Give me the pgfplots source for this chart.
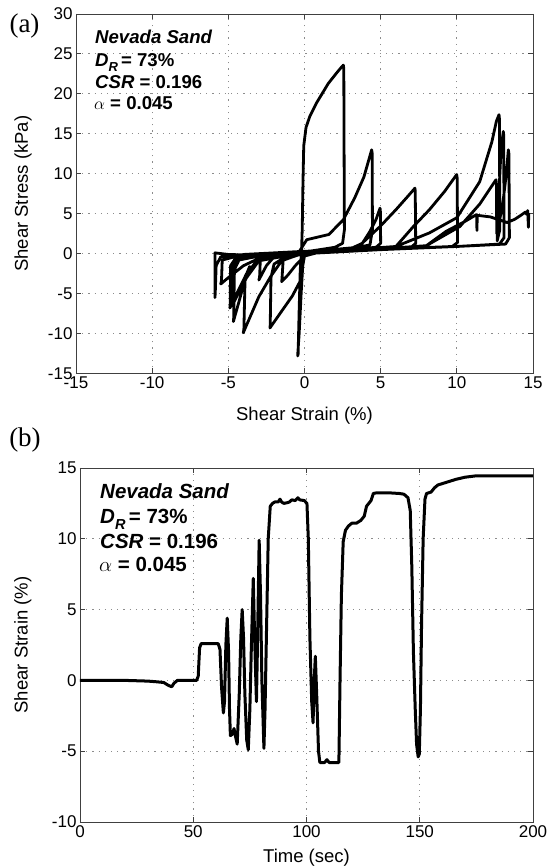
\documentclass[border=0pt]{standalone}
\usepackage{pgfplots}
\pgfplotsset{compat=1.18}
\usepackage{fontspec}
\setmainfont{Liberation Sans}
\newfontfamily\seriffont{Liberation Serif}

\begin{document}
\begin{tikzpicture}
\path[use as bounding box] (0pt,0pt) rectangle (547pt,867pt);
\pgfplotsset{
  myax/.style={
    scale only axis,
    anchor=south west,
    axis line style={draw=black!75, line width=0.9pt},
    tick style={draw=black!75, line width=0.9pt},
    major tick length=5pt,
    tick align=inside,
    grid=major,
    major grid style={draw=black!45, line width=0.9pt, dash pattern=on 1.2pt off 5pt},
    tick label style={font=\fontsize{17}{17}\selectfont},
    label style={font=\fontsize{18.5}{18.5}\selectfont},
    /pgf/number format/assume math mode=true,
  }
}

% ---------------- (a) ----------------
\begin{axis}[myax, at={(76pt,493.5pt)}, width=457pt, height=359.5pt,
  xmin=-15, xmax=15, ymin=-15, ymax=30,
  xtick={-15,-10,...,15}, ytick={-15,-10,...,30},
  xlabel={Shear Strain (\%)}, ylabel={Shear Stress (kPa)},
  xlabel style={at={(axis description cs:0.5,-0.118)}, anchor=center},
  ylabel style={at={(axis description cs:-0.116,0.5)}, anchor=center}]
\addplot[black, no markers, line width=2.8pt, line join=round, line cap=round] coordinates {
(0,0) (-0.1,-1) (-0.22,-5) (-0.35,-10) (-0.45,-12.8) (-0.42,-12.6) (-0.35,-7) (-0.28,-2) (-0.2,0)
(-0.15,3) (-0.1,9) (-0.05,13.5) (0.1,15.8) (0.35,17.2) (0.8,18.9) (1.56,21.3) (2.1,22.6) (2.45,23.4) (2.55,23.6)
(2.58,23.2) (2.6,12) (2.62,3) (2.5,1.3) (2.0,0.8) (1.0,0.5) (0.3,0.3)
(0,-0.3) (-0.3,-3.5) (-0.8,-5.3) (-1.5,-7.2) (-2.27,-9.3)
(-2.25,-8.9) (-2.2,-3) (-2.0,-1.3) (-1.5,-0.7) (-0.5,-0.2) (0.15,1.75) (1.6,2.4) (2.55,4.25) (3.3,7.0) (3.9,9.6) (4.41,13.0)
(4.44,12.6) (4.46,3) (4.3,1.1) (3,0.6) (1,0.3) (-0.5,-0.2) (-1.5,-0.9)
(-2.2,-2.8) (-3.0,-5.4) (-4.02,-9.9)
(-3.98,-9.5) (-3.9,-3) (-3.6,-1.6)
(-3.9,-3.2) (-4.3,-6) (-4.67,-8.5)
(-4.65,-8.1) (-4.6,-2) (-4.3,-0.8) (-3,-0.3) (-1,0.1) (1,0.3) (3,0.6) (3.8,1.3)
(4.3,2.8) (4.7,4.3) (4.96,5.7)
(4.98,5.3) (5.0,1.3) (4.7,0.8) (3,0.5) (1,0.2) (-1,-0.2) (-3,-0.6)
(-3.8,-2.5) (-4.4,-4.8) (-4.9,-6.8)
(-4.88,-6.4) (-4.85,-1.5) (-4.5,-0.5) (-2,0.1) (1,0.35) (3.5,0.8) (4.96,3.4)
(6.0,5.5) (6.7,7.0) (7.25,8.2)
(7.27,7.8) (7.3,1.3) (7.0,0.8) (4,0.5) (1,0.2) (0,-0.3)
(-0.6,-1.5) (-1.1,-2.7) (-1.5,-3.5)
(-1.48,-3.2) (-1.4,-0.8) (0,0.1) (3,0.5) (6,0.9) (7.15,3.4)
(8.2,5.5) (9.2,7.8) (9.99,9.9)
(10.02,9.5) (10.05,1.4) (9.7,0.9) (6,0.6) (2,0.3) (-1,-0.2) (-3,-0.9)
(-3.8,-3) (-4.3,-4.8) (-4.75,-6.5)
(-4.73,-6.1) (-4.7,-1.5) (-4.3,-0.5) (-1,0.1) (3,0.5) (6,0.9)
(8.2,2.6) (10,4.5) (11.5,9) (12.3,14) (12.6,16.6) (12.77,17.4)
(12.8,16.8) (12.82,3) (12.65,1.6)
(12.7,5) (12.9,13) (13.05,15.3)
(13.08,14.8) (13.1,2) (12.8,1.2) (10,0.9) (5,0.6) (0,0.1) (-2,-0.4)
(-2.5,-1.5) (-3,-3.3)
(-2.95,-3.0) (-2.9,-0.8) (-1,-0.1) (1.7,0.4)
(1.65,0.2) (0,0) (-3,-0.2) (-5,-0.1) (-5.88,0.1)
(-5.88,-5.5) (-5.86,-5.0) (-5.8,-1.5) (-5.5,-0.4) (-3,0) (0,0.2) (5,0.6) (8,1.0)
(10.2,3.4) (11.5,6.2) (12.57,9.25)
(12.6,8.7) (12.62,2.5) (13.0,6) (13.25,10) (13.38,13.0)
(13.42,12.5) (13.45,2) (13.2,1.2) (10,0.9) (5,0.5) (0,0) (-3,-0.6)
(-4,-1.5) (-5.0,-3) (-5.5,-3.8)
(-5.45,-3.4) (-5.4,-0.8) (-4,-0.1) (0,0.3) (5,0.6) (8,1.0)
(9.3,2.8) (10.5,4.0) (11.3,4.9) (11.32,2.9) (11.34,4.8) (12.2,4.6) (13.3,3.9) (13.8,4.3) (14.2,4.8) (14.5,5.2) (14.6,4.9) (14.65,5.4) (14.7,3.3) (14.72,5.0)
};
\end{axis}

% ---------------- (b) ----------------
\begin{axis}[myax, at={(80pt,45pt)}, width=453pt, height=354pt,
  xmin=0, xmax=200, ymin=-10, ymax=15,
  xtick={0,50,...,200}, ytick={-10,-5,...,15},
  xlabel={Time (sec)}, ylabel={Shear Strain (\%)},
  xlabel style={at={(axis description cs:0.5,-0.102)}, anchor=center},
  ylabel style={at={(axis description cs:-0.126,0.5)}, anchor=center}]
\addplot[black, no markers, line width=3pt, line join=round, line cap=round] coordinates {
(0,0) (10,0) (20,0) (30,-0.05) (34,-0.1) (37,-0.15) (39,-0.35) (40.5,-0.45) (41.5,-0.2) (43,0)
(47,0) (51.5,0) (52.2,0.3) (52.8,2.3) (53.5,2.6) (61,2.6) (61.8,2.2) (62.5,-0.5) (63.3,-2.3)
(63.8,-1.5) (64.4,2.5) (65.0,4.4) (65.6,2.0) (66.0,-2) (66.4,-3.9) (67.3,-3.8) (68.0,-3.4)
(68.6,-3.9) (69.4,-4.5) (70.3,-1) (71.0,3) (71.6,5.0) (72.2,3) (72.8,-1) (73.6,-4.2) (74.3,-4.9)
(75.0,-2) (75.6,2) (76.5,7.2) (77.1,3) (77.9,-1.5) (78.3,2) (79.1,9.9) (79.7,6) (80.3,0)
(81.2,-4.8) (81.7,-2) (82.4,4) (83.1,10) (84.0,12.3) (85,12.5) (86,12.6) (87.5,12.6) (88.3,12.8)
(89,12.6) (90,12.5) (91.5,12.55) (92.5,12.6) (93.5,12.75) (95,12.7) (96.2,12.9) (97,12.75)
(99,12.7) (100.2,12.5) (100.8,10) (101.5,3) (102.3,-1.5) (102.9,-3) (103.4,0) (103.9,1.7)
(104.5,-1) (105.3,-5) (105.9,-5.8) (108,-5.8) (109,-5.6) (110,-5.8) (114.3,-5.8) (114.8,0)
(115.4,6) (116.2,9.8) (117.2,10.6) (118.5,10.9) (120,11.1) (122,11.1) (124,11.3) (125.5,11.6)
(126.5,12.3) (127.5,12.5) (128.5,12.7) (129.5,13.2) (131,13.25) (136,13.25) (141,13.2)
(143,13.15) (144.8,12.9) (145.8,12) (146.5,8) (147.2,2) (148,-2) (148.6,-4.5) (149.3,-5.4)
(149.8,-5.2) (150.3,-2) (150.8,4) (151.5,10) (152.3,12.8) (153,13.2) (155,13.3) (156.5,13.6)
(158,13.8) (162,14.0) (166,14.2) (170,14.35) (175,14.45) (190,14.45) (200,14.45)
};
\end{axis}

% annotations (a)
\begin{scope}[every node/.style={anchor=base west, inner sep=0pt, font=\fontsize{18.6}{18.6}\selectfont\bfseries}]
\node at (95pt,823.7pt) {\itshape Nevada Sand};
\node at (95pt,800.3pt) {\textit{D}\raisebox{-0.28em}{\fontsize{13}{13}\selectfont\itshape R}\,= 73\%};
\node at (95pt,778.7pt) {\textit{CSR} = 0.196};
\node at (94pt,757pt) {$\alpha$ = 0.045};
\end{scope}
% annotations (b)
\begin{scope}[every node/.style={anchor=base west, inner sep=0pt, font=\fontsize{20.5}{20.5}\selectfont\bfseries}]
\node at (100pt,368.7pt) {\itshape Nevada Sand};
\node at (100pt,343.7pt) {\textit{D}\raisebox{-0.28em}{\fontsize{14.5}{14.5}\selectfont\itshape R}\,= 73\%};
\node at (100pt,318.7pt) {\textit{CSR} = 0.196};
\node at (99pt,295.3pt) {$\alpha$ = 0.045};
\end{scope}
\node[font=\seriffont\fontsize{27}{27}\selectfont] at (24.5pt,841pt) {(a)};
\node[font=\seriffont\fontsize{27}{27}\selectfont] at (25pt,427pt) {(b)};
\end{tikzpicture}
\end{document}
